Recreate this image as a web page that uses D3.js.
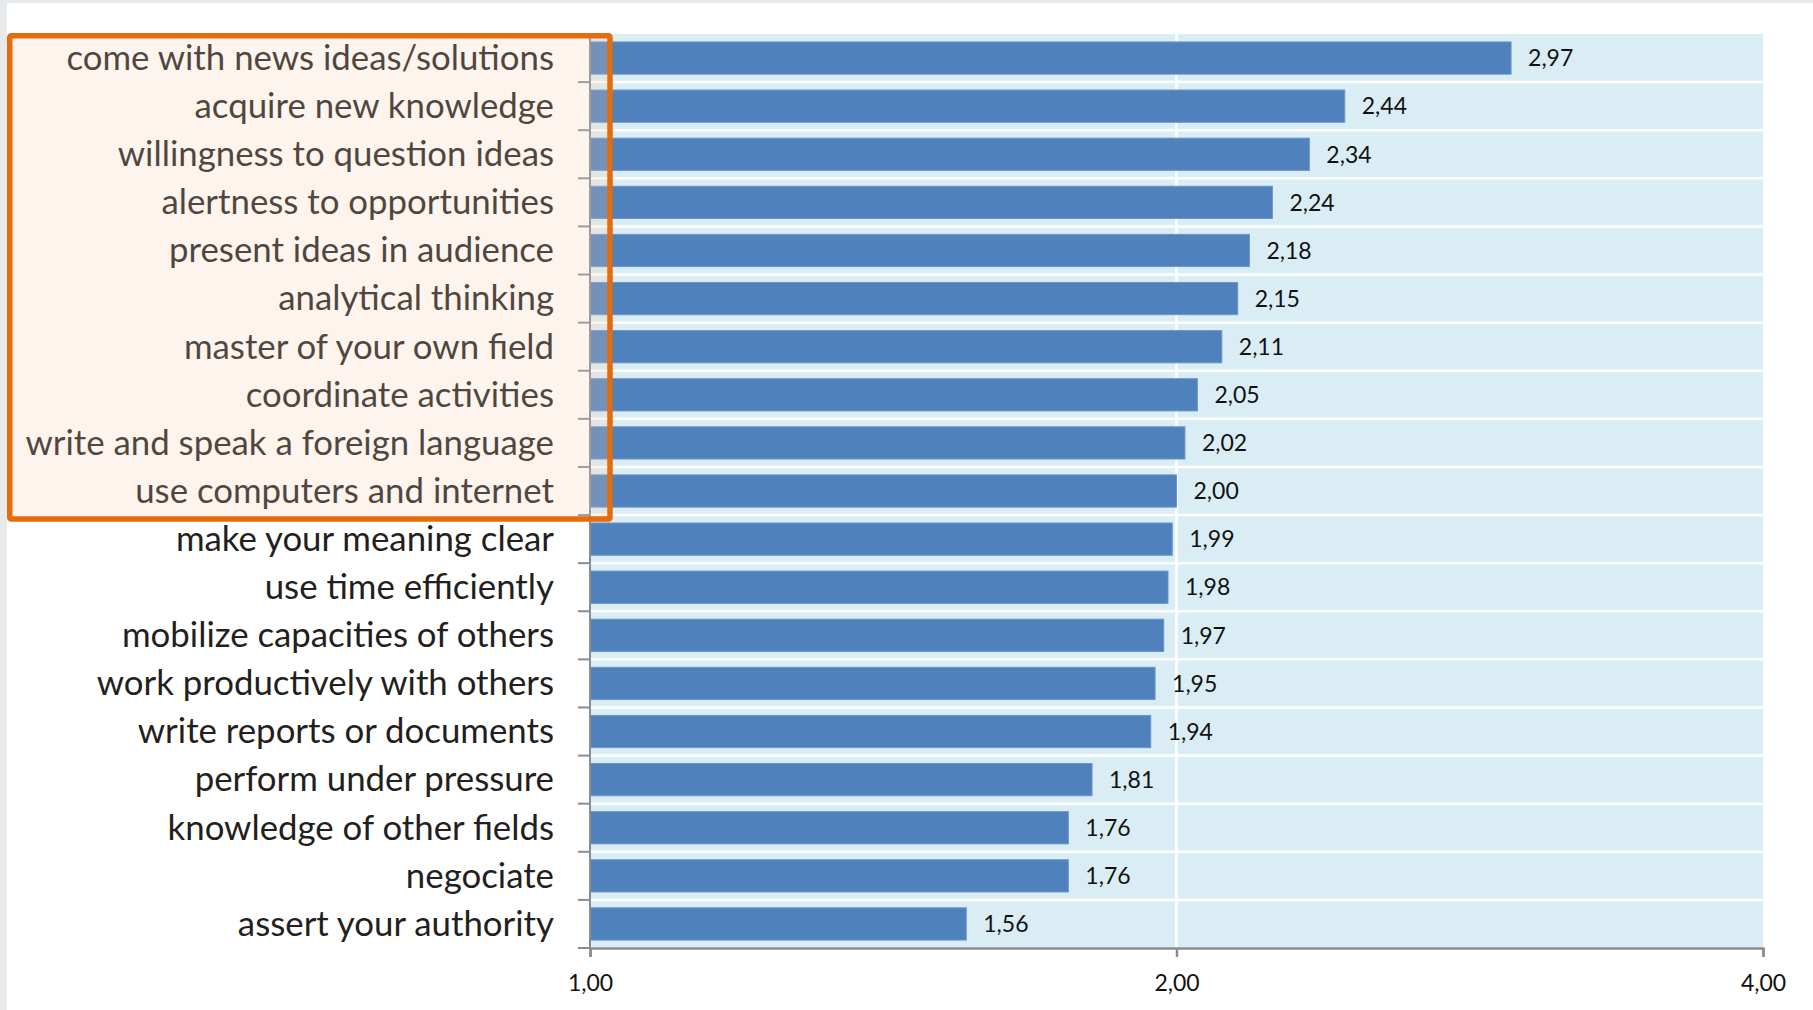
<!DOCTYPE html>
<html>
<head>
<meta charset="utf-8">
<script src="https://cdn.jsdelivr.net/npm/d3@7"></script>
<style>
  html, body { margin: 0; padding: 0; background: #e6eaed; }
  svg { display: block; }
</style>
</head>
<body>
<svg id="chart" width="1813" height="1010"></svg>
<script>
// Self-assessed skill scores (log-scaled axis, base 2)
const skills = [
  "come with news ideas/solutions",
  "acquire new knowledge",
  "willingness to question ideas",
  "alertness to opportunities",
  "present ideas in audience",
  "analytical thinking",
  "master of your own field",
  "coordinate activities",
  "write and speak a foreign language",
  "use computers and internet",
  "make your meaning clear",
  "use time efficiently",
  "mobilize capacities of others",
  "work productively with others",
  "write reports or documents",
  "perform under pressure",
  "knowledge of other fields",
  "negociate",
  "assert your authority"
];
const scores = [2.97, 2.44, 2.34, 2.24, 2.18, 2.15, 2.11, 2.05, 2.02, 2.00,
                1.99, 1.98, 1.97, 1.95, 1.94, 1.81, 1.76, 1.76, 1.56];
const xTicks = [1, 2, 4];
// The first ten skills are the ones framed as a group
const highlighted = skills.slice(0, 10);

const svg = d3.select("#chart");
const W = 1813, H = 1010;
const margin = { top: 34, right: 50, bottom: 62, left: 590 };
const plotW = W - margin.left - margin.right;
const plotH = H - margin.top - margin.bottom;

const locale = d3.formatLocale({ decimal: ",", thousands: ".", grouping: [3], currency: ["", "€"] });
const fmt = locale.format(".2f");

const x = d3.scaleLog().base(2).domain([1, 4]).range([0, plotW]);
const y = d3.scaleBand().domain(skills).range([0, plotH]).paddingInner(0.33).paddingOuter(0.165);

// page frame
svg.append("rect").attr("x", 7).attr("y", 3).attr("width", W - 7).attr("height", H - 3).attr("fill", "#ffffff");

const g = svg.append("g").attr("transform", `translate(${margin.left},${margin.top})`);

// plot background
g.append("rect").attr("width", plotW).attr("height", plotH).attr("fill", "#dbedf4");

// band separators
const rowH = plotH / skills.length;
const boundaries = d3.range(skills.length + 1).map(i => i * rowH);
g.append("g").selectAll("line").data(boundaries.slice(1, -1)).join("line")
  .attr("x1", 0).attr("x2", plotW)
  .attr("y1", d => d).attr("y2", d => d)
  .attr("stroke", "#ffffff").attr("stroke-width", 2.5);

// vertical grid
g.append("g").selectAll("line").data(xTicks.slice(1, -1)).join("line")
  .attr("x1", d => x(d)).attr("x2", d => x(d))
  .attr("y1", 0).attr("y2", plotH)
  .attr("stroke", "#ffffff").attr("stroke-width", 2.5);

// bars
g.append("g").selectAll("rect").data(skills).join("rect")
  .attr("x", x(1))
  .attr("y", d => y(d))
  .attr("width", (d, i) => x(scores[i]) - x(1))
  .attr("height", y.bandwidth())
  .attr("fill", "#4f81bd")
  .attr("stroke", "#6b95c8").attr("stroke-width", 1);

// value labels
g.append("g").selectAll("text").data(skills).join("text")
  .attr("x", (d, i) => x(scores[i]) + 17)
  .attr("y", d => y(d) + y.bandwidth() / 2)
  .attr("dy", "0.36em")
  .attr("font-family", "Lato, 'Open Sans', sans-serif")
  .attr("font-size", 23)
  .attr("fill", "#111")
  .text((d, i) => fmt(scores[i]));

// y axis: line with ticks on band boundaries
const axisColor = "#8c8c8c";
g.append("line").attr("x1", 0).attr("x2", 0).attr("y1", -1).attr("y2", plotH)
  .attr("stroke", axisColor).attr("stroke-width", 2);
g.append("g").selectAll("line").data(boundaries).join("line")
  .attr("x1", -12).attr("x2", 0)
  .attr("y1", d => d).attr("y2", d => d)
  .attr("stroke", axisColor).attr("stroke-width", 2);

// highlight frame around the top group of skills: tinted fill first
const boxTop = margin.top + 1.75;
const boxBottom = margin.top + highlighted.length * rowH + 4;
const box = { x: 9.75, y: boxTop, w: 610 - 9.75, h: boxBottom - boxTop };
svg.append("rect")
  .attr("x", box.x).attr("y", box.y).attr("width", box.w).attr("height", box.h)
  .attr("fill", "rgb(246,204,176)").attr("fill-opacity", 0.22);

// category labels
g.append("g").selectAll("text").data(skills).join("text")
  .attr("x", -36)
  .attr("y", d => y(d) + y.bandwidth() / 2)
  .attr("dy", "0.34em")
  .attr("text-anchor", "end")
  .attr("font-family", "Lato, 'Open Sans', sans-serif")
  .attr("font-size", 34.8)
  .attr("fill", "#231f20")
  .text(d => d);

// x axis
const xAxis = d3.axisBottom(x).tickValues(xTicks).tickFormat(fmt).tickSize(9).tickPadding(18);
const xg = g.append("g").attr("transform", `translate(0,${plotH})`).call(xAxis);
xg.select(".domain").attr("stroke", axisColor).attr("stroke-width", 2.5);
xg.selectAll(".tick line").attr("stroke", axisColor).attr("stroke-width", 2.5);
xg.selectAll(".tick text")
  .attr("font-family", "Lato, 'Open Sans', sans-serif")
  .attr("font-size", 23)
  .attr("fill", "#111");

// frame outline on top
svg.append("rect")
  .attr("x", box.x).attr("y", box.y).attr("width", box.w).attr("height", box.h)
  .attr("fill", "none")
  .attr("stroke", "#e46c0a").attr("stroke-width", 5.5)
  .attr("rx", 1.5);
</script>
</body>
</html>
